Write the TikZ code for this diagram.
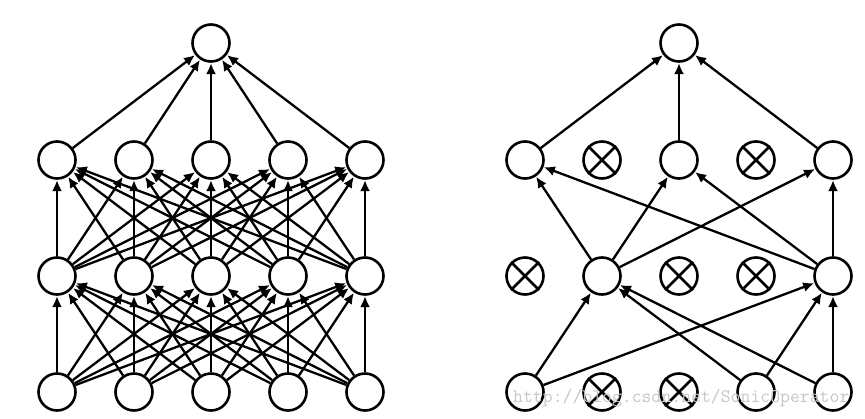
\documentclass[tikz,border=0pt]{standalone}
\usetikzlibrary{arrows.meta}
\tikzset{
  neuron/.style={circle,draw=black,line width=2.6pt,fill=white,minimum size=37pt,inner sep=0pt},
  conn/.style={line width=2.3pt,-{Latex[length=11pt,width=10pt]},shorten >=0.3pt},
  xline/.style={line width=2.6pt}
}
\begin{document}
\begin{tikzpicture}[x=1pt,y=-1pt]
\useasboundingbox (0,0) rectangle (865,418);
% ---------- left network ----------
\node[neuron] (Lt) at (211,43) {};
\foreach \i/\x in {1/57,2/134,3/211,4/288,5/365}{
  \node[neuron] (La\i) at (\x,160) {};
  \node[neuron] (Lb\i) at (\x,276) {};
  \node[neuron] (Lc\i) at (\x,392) {};
}
\foreach \i in {1,...,5}{
  \draw[conn] (La\i) -- (Lt);
  \foreach \j in {1,...,5}{
    \draw[conn] (Lb\i) -- (La\j);
    \draw[conn] (Lc\i) -- (Lb\j);
  }
}
% ---------- right network ----------
\node[neuron] (Rt) at (679,43) {};
\foreach \i/\x in {1/525,2/602,3/679,4/756,5/833}{
  \node[neuron] (Ra\i) at (\x,160) {};
  \node[neuron] (Rb\i) at (\x,276) {};
  \node[neuron] (Rc\i) at (\x,392) {};
}
% dropped units
\foreach \n in {Ra2,Ra4,Rb1,Rb3,Rb4,Rc2,Rc3}{
  \draw[xline] (\n.north east) -- (\n.south west);
  \draw[xline] (\n.north west) -- (\n.south east);
}
% connections
\foreach \i in {1,3,5}{ \draw[conn] (Ra\i) -- (Rt); }
\foreach \i in {2,5}{
  \foreach \j in {1,3,5}{ \draw[conn] (Rb\i) -- (Ra\j); }
}
\foreach \i in {1,4,5}{
  \foreach \j in {2,5}{ \draw[conn] (Rc\i) -- (Rb\j); }
}
% watermark
\node[anchor=base west,inner sep=0pt,text=black!22,font=\ttfamily\fontsize{19.2}{21}\selectfont] (wm) at (513,402) {http://blog.csdn.net/SonicOperator};
\end{tikzpicture}
\end{document}
